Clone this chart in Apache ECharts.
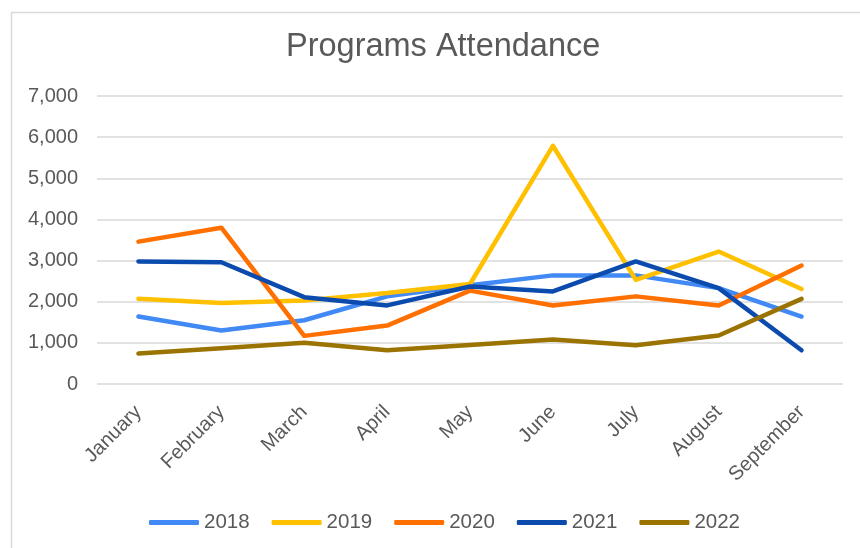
<!DOCTYPE html>
<html>
<head>
<meta charset="utf-8">
<script src="https://cdn.jsdelivr.net/npm/echarts@6/dist/echarts.min.js"></script>
<style>
html,body{margin:0;padding:0;background:#fff;}
#chart{width:860px;height:548px;}
</style>
</head>
<body>
<div id="chart"></div>
<script>
const months = ["January","February","March","April","May","June","July","August","September"];
const years = ["2018","2019","2020","2021","2022"];
const v2018 = [1640,1300,1550,2130,2400,2640,2640,2330,1640];
const v2019 = [2070,1970,2030,2210,2430,5790,2530,3220,2310];
const v2020 = [3460,3800,1170,1420,2270,1910,2130,1910,2880];
const v2021 = [2980,2960,2110,1910,2370,2250,2980,2330,820];
const v2022 = [740,870,1000,820,950,1080,940,1180,2070];
const yTicks = [0,1000,2000,3000,4000,5000,6000,7000];

const colors = ["#4189F5","#FFC000","#FF7000","#0B4BAE","#9A7300"];
const seriesData = [v2018,v2019,v2020,v2021,v2022];

const chart = echarts.init(document.getElementById('chart'), null, {renderer:'canvas'});
const font = "'Liberation Sans', Arial, sans-serif";
chart.setOption({
  animation:false,
  backgroundColor:'#fff',
  color: colors,
  graphic:[{
    type:'rect', left:9, top:10, silent:true,
    shape:{x:0,y:0,width:900,height:600},
    style:{fill:'none', stroke:'#d9d9d9', lineWidth:1.5}
  }],
  title:{
    text:'Programs Attendance', left:281, top:26,
    textStyle:{fontFamily:font, fontSize:32.5, fontWeight:'normal', color:'#595959'}
  },
  grid:{left:97, right:17, top:96, bottom:164, containLabel:false},
  legend:{
    data: years, bottom:10, left:144,
    icon:'roundRect', itemWidth:50, itemHeight:5, itemGap:22,
    textStyle:{fontFamily:font, fontSize:20.5, color:'#595959'}
  },
  xAxis:{
    type:'category', data: months, boundaryGap:true,
    axisLine:{show:false}, axisTick:{show:false},
    axisLabel:{rotate:45, margin:25, interval:0, fontFamily:font, fontSize:20, color:'#595959'}
  },
  yAxis:{
    type:'value', min:yTicks[0], max:yTicks[yTicks.length-1], interval:1000,
    axisLine:{show:false}, axisTick:{show:false},
    axisLabel:{margin:19, fontFamily:font, fontSize:20, color:'#595959',
      formatter:function(v){return v.toLocaleString('en-US');}},
    splitLine:{lineStyle:{color:'#d9d9d9', width:1.5}}
  },
  series: years.map(function(y,i){
    return {
      name:y, type:'line', data: seriesData[i], symbol:'none', smooth:false,
      lineStyle:{width:4.5, color:colors[i], cap:'round', join:'round'},
      itemStyle:{color:colors[i]}
    };
  })
});
</script>
</body>
</html>
